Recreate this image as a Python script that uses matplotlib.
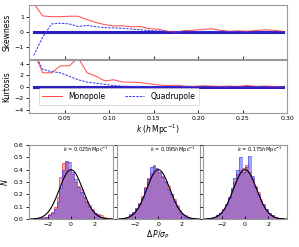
import numpy as np
import matplotlib
matplotlib.use("Agg")
import matplotlib.pyplot as plt

# wavenumbers of the measured statistics
k = np.array([0.015, 0.025, 0.035, 0.045, 0.055, 0.065, 0.075, 0.085, 0.095, 0.105,
              0.115, 0.125, 0.135, 0.145, 0.155, 0.165, 0.175, 0.185, 0.195, 0.205,
              0.215, 0.225, 0.235, 0.245, 0.255, 0.265, 0.275, 0.285, 0.295])

skew_mono = np.array([1.95, 1.10, 1.05, 1.05, 1.08, 1.08, 0.85, 0.65, 0.50, 0.42,
                      0.42, 0.35, 0.38, 0.22, 0.20, 0.05, 0.00, 0.10, 0.12, 0.18,
                      0.22, 0.12, 0.05, 0.08, 0.05, 0.10, 0.15, 0.12, 0.05])
skew_quad = np.array([-1.60, -0.35, 0.55, 0.60, 0.55, 0.38, 0.45, 0.36, 0.30, 0.28,
                      0.25, 0.20, 0.15, 0.10, 0.08, 0.05, 0.03, 0.05, 0.02, 0.04,
                      0.03, 0.05, 0.02, 0.03, 0.00, 0.02, -0.03, 0.02, 0.03])
kurt_mono = np.array([6.0, 2.4, 2.4, 3.6, 3.6, 5.0, 2.4, 1.8, 1.0, 1.2,
                      0.8, 0.8, 0.7, 0.5, 0.3, 0.2, 0.25, 0.1, 0.05, 0.15,
                      0.1, 0.05, 0.1, 0.05, 0.2, 0.05, 0.1, 0.05, 0.0])
kurt_quad = np.array([6.0, 3.0, 2.6, 2.4, 1.8, 1.2, 0.8, 0.6, 0.4, 0.2,
                      0.1, 0.05, 0.05, 0.0, 0.0, 0.05, 0.0, 0.0, 0.05, 0.0,
                      0.0, -0.05, 0.0, 0.0, -0.1, 0.0, 0.0, -0.05, 0.0])
gauss_ref = np.zeros_like(k)

# histograms of Delta P / sigma_P (density per bin)
bin_edges = np.linspace(-3.5, 3.5, 29)
hist_k = ["0.025", "0.095", "0.175"]
hist_mono = [
    [0.0, 0.0, 0.005, 0.01, 0.015, 0.02, 0.04, 0.06, 0.10, 0.18, 0.34, 0.45, 0.46, 0.40,
     0.36, 0.30, 0.27, 0.24, 0.18, 0.15, 0.11, 0.08, 0.05, 0.04, 0.03, 0.02, 0.01, 0.005],
    [0.0, 0.005, 0.01, 0.02, 0.03, 0.05, 0.08, 0.13, 0.19, 0.26, 0.33, 0.37, 0.44, 0.40,
     0.38, 0.35, 0.30, 0.27, 0.20, 0.16, 0.11, 0.07, 0.04, 0.03, 0.02, 0.01, 0.005, 0.0],
    [0.0, 0.005, 0.01, 0.015, 0.03, 0.05, 0.08, 0.11, 0.17, 0.24, 0.30, 0.36, 0.40, 0.41,
     0.44, 0.38, 0.33, 0.27, 0.22, 0.16, 0.11, 0.08, 0.05, 0.03, 0.015, 0.01, 0.005, 0.0],
]
hist_quad = [
    [0.0, 0.005, 0.005, 0.01, 0.01, 0.02, 0.03, 0.05, 0.08, 0.14, 0.25, 0.40, 0.47, 0.46,
     0.38, 0.32, 0.26, 0.22, 0.18, 0.14, 0.10, 0.07, 0.05, 0.03, 0.02, 0.01, 0.005, 0.0],
    [0.0, 0.005, 0.01, 0.02, 0.04, 0.06, 0.09, 0.12, 0.17, 0.25, 0.32, 0.42, 0.43, 0.41,
     0.38, 0.34, 0.31, 0.24, 0.20, 0.15, 0.10, 0.06, 0.04, 0.02, 0.01, 0.005, 0.005, 0.0],
    [0.0, 0.0, 0.01, 0.02, 0.03, 0.05, 0.07, 0.12, 0.18, 0.25, 0.33, 0.40, 0.50, 0.38,
     0.42, 0.51, 0.35, 0.26, 0.20, 0.15, 0.12, 0.08, 0.05, 0.03, 0.02, 0.01, 0.005, 0.0],
]

spine_col = "#999999"
red = "#ff3333"
blue = "#3333ee"

fig = plt.figure(figsize=(2.99, 2.47), dpi=100)


def style(ax):
    for s in ax.spines.values():
        s.set_color(spine_col)
        s.set_linewidth(0.8)
    ax.tick_params(axis="x", direction="in", length=2.5, width=0.6, labelsize=4.5, pad=2)
    ax.tick_params(axis="y", direction="out", length=2.5, width=0.6, labelsize=4.5, pad=1.5)


ax_s = fig.add_axes([0.098, 0.762, 0.862, 0.218])
ax_k = fig.add_axes([0.098, 0.541, 0.862, 0.216])

ax_s.plot(k, gauss_ref, color="#2b1fc4", lw=2.2, zorder=1)
ax_s.plot(k, skew_mono, color=red, lw=0.7, alpha=0.9, zorder=2)
ax_s.plot(k, skew_quad, color=blue, lw=0.7, ls="--", dashes=(2.5, 1.2), zorder=2)
ax_s.set_xlim(0.01, 0.30)
ax_s.set_ylim(-1.83, 1.85)
ax_s.set_yticks([-1, 0, 1])
ax_s.set_xticks([0.05, 0.10, 0.15, 0.20, 0.25])
ax_s.set_xticklabels([])
ax_s.set_ylabel("Skewness", fontsize=5.5, labelpad=2)
style(ax_s)

ax_k.plot(k, gauss_ref, color="#2b1fc4", lw=2.2, zorder=1)
ax_k.plot(k, kurt_mono, color=red, lw=0.7, alpha=0.9, zorder=2, label="Monopole")
ax_k.plot(k, kurt_quad, color=blue, lw=0.7, ls="--", dashes=(2.5, 1.2), zorder=2,
          label="Quadrupole")
ax_k.set_xlim(0.01, 0.30)
ax_k.set_ylim(-4.6, 4.6)
ax_k.set_yticks([-4, -2, 0, 2, 4])
ax_k.set_xticks([0.05, 0.10, 0.15, 0.20, 0.25, 0.30])
ax_k.set_xticklabels(["0.05", "0.10", "0.15", "0.20", "0.25", "0.30"])
ax_k.set_ylabel("Kurtosis", fontsize=5.5, labelpad=2)
ax_k.set_xlabel(r"$k\;(h\,\mathrm{Mpc}^{-1})$", fontsize=5.5, labelpad=1)
style(ax_k)
leg = ax_k.legend(loc="lower left", bbox_to_anchor=(0.03, 0.13), ncol=2, fontsize=5.5,
                  frameon=True, fancybox=True, handlelength=2.6, columnspacing=2.5,
                  borderpad=0.5, handletextpad=0.8, borderaxespad=0.2)
leg.get_frame().set_edgecolor("#cccccc")
leg.get_frame().set_linewidth(0.6)

lefts = [0.098, 0.390, 0.680]
xg = np.linspace(-3.6, 3.6, 200)
gauss_pdf = np.exp(-0.5 * xg ** 2) / np.sqrt(2 * np.pi)
for i, left in enumerate(lefts):
    ax = fig.add_axes([left, 0.113, 0.279, 0.301])
    ax.stairs(hist_mono[i], bin_edges, fill=True, color=red, alpha=0.45, lw=0)
    ax.stairs(hist_mono[i], bin_edges, color=red, alpha=0.7, lw=0.5)
    ax.stairs(hist_quad[i], bin_edges, fill=True, color=blue, alpha=0.45, lw=0)
    ax.stairs(hist_quad[i], bin_edges, color=blue, alpha=0.7, lw=0.5)
    ax.plot(xg, gauss_pdf, color="black", lw=0.8)
    ax.set_xlim(-3.6, 3.6)
    ax.set_ylim(0, 0.6)
    ax.set_xticks([-2, 0, 2])
    ax.set_yticks([0.0, 0.1, 0.2, 0.3, 0.4, 0.5, 0.6])
    if i == 0:
        ax.set_yticklabels(["0.0", "0.1", "0.2", "0.3", "0.4", "0.5", "0.6"])
        ax.set_ylabel(r"$N$", fontsize=5.5, labelpad=3)
    else:
        ax.set_yticklabels([])
    if i == 1:
        ax.set_xlabel(r"$\Delta\,P/\sigma_P$", fontsize=5.5, labelpad=1)
    ax.text(0.95, 0.93, r"$k$ = " + hist_k[i] + r"$h\,\mathrm{Mpc}^{-1}$",
            transform=ax.transAxes, ha="right", va="center", fontsize=3.6)
    style(ax)

fig.savefig("out.png", dpi=100)
